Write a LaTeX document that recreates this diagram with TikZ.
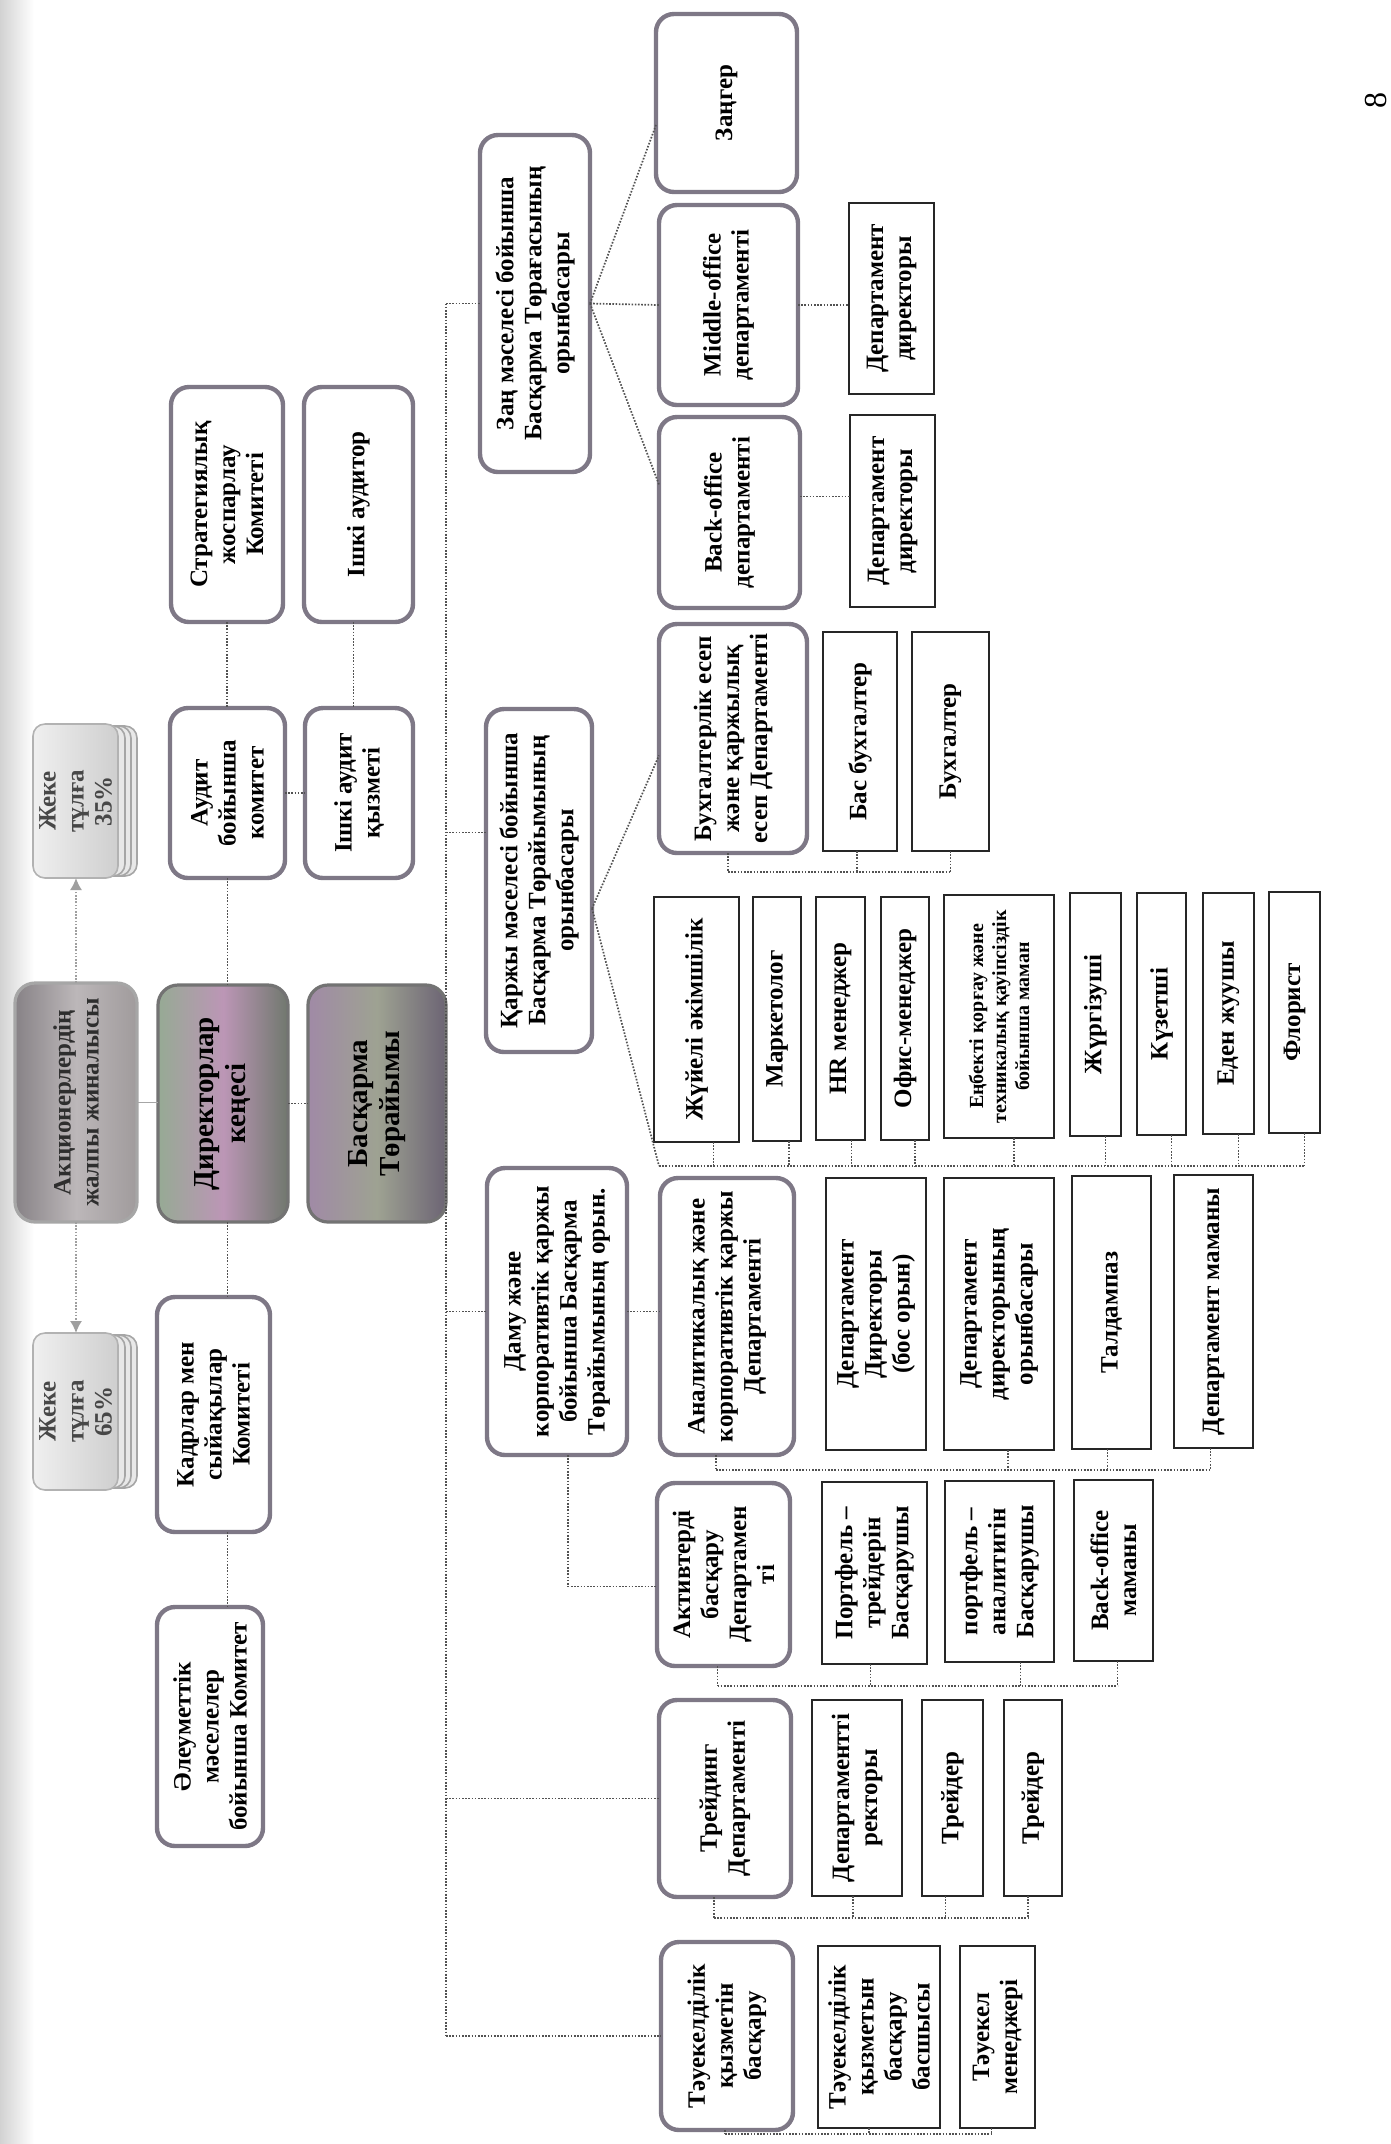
\documentclass[tikz,border=0pt]{standalone}
\usepackage{fontspec}
\setmainfont{Liberation Serif}
\usetikzlibrary{arrows.meta,calc}
\definecolor{rb}{RGB}{126,120,134}
\definecolor{dirA}{RGB}{150,170,148}
\definecolor{dirB}{RGB}{188,150,182}
\definecolor{dirC}{RGB}{112,120,110}
\definecolor{basA}{RGB}{160,138,166}
\definecolor{basB}{RGB}{158,162,146}
\definecolor{basC}{RGB}{108,100,116}
\definecolor{akA}{RGB}{135,130,134}
\definecolor{akB}{RGB}{188,183,185}
\definecolor{akC}{RGB}{160,155,156}
\tikzset{
  rbox/.style={draw=rb, line width=2.2pt, rounded corners=9pt, fill=white, inner sep=0pt, outer sep=0pt},
  sbox/.style={draw=black!85, line width=1.2pt, fill=white, inner sep=0pt, outer sep=0pt},
  fbox/.style={draw=black!55, line width=1.6pt, rounded corners=10pt, inner sep=0pt, outer sep=0pt},
  jbox/.style={draw=gray!60, line width=0.8pt, rounded corners=6pt, left color=gray!12, right color=gray!38, inner sep=0pt, outer sep=0pt},
  stk/.style={draw=gray!70, line width=0.8pt, rounded corners=6pt, fill=gray!18},
  txt/.style={rotate=90, align=center, font=\bfseries\fontsize{12.5}{14}\selectfont, inner sep=0pt, text=black},
  bigtxt/.style={font=\bfseries\fontsize{14.5}{16}\selectfont},
  dot/.style={draw=black!68, line width=0.85pt, dash pattern=on 0.8pt off 0.8pt},
  arr/.style={draw=gray!75, line width=0.8pt, dash pattern=on 0.8pt off 0.8pt, -{Latex[length=6pt,width=6pt]}},
}
\newcommand\orgbox[8][]{%
  \node[#3, minimum width={(#6-#4)*0.5pt}, minimum height={(#7-#5)*0.5pt}] (#2) at ({(#4+#6)/2},{(#5+#7)/2}) {};
  \node[txt,#1] (#2t) at (#2.center) {#8};}
\newcommand\stub[3]{\draw[dot] ($(#1.south)+(#2,0)$) -- ($(#1.south |- #3)+(#2,0)$);}
\begin{document}
\begin{tikzpicture}[x=0.5pt,y=-0.5pt]
\useasboundingbox (0,0) rectangle (1391,2144);
\fill[white] (0,0) rectangle (1391,2144);
\shade[left color=gray!35, right color=white] (0,0) rectangle (34,2144);

% page number
\node[rotate=90, font=\fontsize{16}{18}\selectfont, inner sep=0pt] (pg) at (1376,100) {8};

% stacked shareholder boxes
\foreach \o in {19,13,7}{
  \draw[stk] (33+\o,726) rectangle (118+\o,876);
  \draw[stk] (33+\o,1335) rectangle (118+\o,1488);
}
\orgbox[text=black!72]{j35}{jbox}{33}{724}{118}{878}{Жеке\\тұлға\\35\%}
\orgbox[text=black!72]{j65}{jbox}{33}{1333}{118}{1490}{Жеке\\тұлға\\65\%}
\orgbox[text=black!82]{akc}{fbox, draw=gray!70, left color=akA, right color=akC, middle color=akB}{15}{983}{137}{1222}{Акционерлердің\\жалпы жиналысы}

% board column
\orgbox{strat}{rbox}{171}{387}{283}{622}{Стратегиялық\\жоспарлау\\Комитеті}
\orgbox{aud}{rbox}{170}{708}{285}{878}{Аудит\\бойынша\\комитет}
\orgbox[bigtxt]{dir}{fbox, left color=dirA, right color=dirC, middle color=dirB}{158}{985}{288}{1222}{Директорлар\\кеңесі}
\orgbox{kad}{rbox}{157}{1297}{270}{1532}{Кадрлар мен\\сыйақылар\\Комитеті}
\orgbox{ale}{rbox}{157}{1607}{263}{1846}{Әлеуметтік\\мәселелер\\бойынша Комитет}
\orgbox{ia}{rbox}{304}{387}{413}{622}{Ішкі аудитор}
\orgbox{iaq}{rbox}{305}{708}{413}{878}{Ішкі аудит\\қызметі}
\orgbox[bigtxt]{bas}{fbox, left color=basA, right color=basC, middle color=basB}{308}{985}{446}{1222}{Басқарма\\Төрайымы}

% deputies
\orgbox{zan}{rbox}{480}{135}{590}{472}{Заң мәселесі бойынша\\Басқарма Төрағасының\\орынбасары}
\orgbox{qz}{rbox}{486}{709}{592}{1052}{Қаржы мәселесі бойынша\\Басқарма Төрайымының\\орынбасары}
\orgbox{damu}{rbox}{487}{1168}{627}{1455}{Даму және\\корпоративтік қаржы\\бойынша Басқарма\\Төрайымының орын.}

% legal branch
\orgbox{zg}{rbox}{656}{14}{797}{192}{Заңгер}
\orgbox{mo}{rbox}{659}{205}{798}{405}{Middle-office\\департаменті}
\orgbox{bo}{rbox}{659}{417}{800}{608}{Back-office\\департаменті}
\orgbox{mdir}{sbox}{849}{203}{934}{394}{Департамент\\директоры}
\orgbox{bdir}{sbox}{850}{415}{935}{607}{Департамент\\директоры}

% finance branch
\orgbox{buh}{rbox}{659}{624}{807}{853}{Бухгалтерлік есеп\\және қаржылық\\есеп Департаменті}
\orgbox{bb}{sbox}{823}{632}{897}{851}{Бас бухгалтер}
\orgbox{bh}{sbox}{912}{632}{989}{851}{Бухгалтер}
\orgbox{s1}{sbox}{654}{897}{739}{1142}{Жүйелі әкімшілік}
\orgbox{s2}{sbox}{753}{897}{801}{1141}{Маркетолог}
\orgbox{s3}{sbox}{816}{897}{865}{1140}{HR менеджер}
\orgbox{s4}{sbox}{881}{897}{929}{1140}{Офис-менеджер}
\orgbox[font=\bfseries\fontsize{10}{11.5}\selectfont]{s5}{sbox}{944}{895}{1054}{1138}{Еңбекті қорғау және\\техникалық қауіпсіздік\\бойынша маман}
\orgbox{s6}{sbox}{1070}{893}{1121}{1136}{Жүргізуші}
\orgbox{s7}{sbox}{1137}{893}{1186}{1135}{Күзетші}
\orgbox{s8}{sbox}{1203}{893}{1254}{1134}{Еден жуушы}
\orgbox{s9}{sbox}{1269}{892}{1320}{1133}{Флорист}

% development branch
\orgbox{an}{rbox}{660}{1178}{794}{1455}{Аналитикалық және\\корпоративтік қаржы\\Департаменті}
\orgbox{a1}{sbox}{826}{1178}{926}{1450}{Департамент\\Директоры\\(бос орын)}
\orgbox{a2}{sbox}{944}{1178}{1054}{1450}{Департамент\\директорының\\орынбасары}
\orgbox{a3}{sbox}{1072}{1176}{1151}{1449}{Талдампаз}
\orgbox{a4}{sbox}{1174}{1175}{1253}{1448}{Департамент маманы}
\orgbox{akt}{rbox}{657}{1483}{790}{1666}{Активтерді\\басқару\\Департамен\\ті}
\orgbox{p1}{sbox}{822}{1482}{927}{1664}{Портфель –\\трейдерін\\Басқарушы}
\orgbox{p2}{sbox}{945}{1481}{1054}{1662}{портфель –\\аналитигін\\Басқарушы}
\orgbox{p3}{sbox}{1074}{1480}{1153}{1661}{Back-office\\маманы}
\orgbox{tr}{rbox}{659}{1700}{791}{1897}{Трейдинг\\Департаменті}
\orgbox{t1}{sbox}{812}{1700}{902}{1896}{Департаменттi\\ректоры}
\orgbox{t2}{sbox}{922}{1700}{983}{1896}{Трейдер}
\orgbox{t3}{sbox}{1004}{1700}{1062}{1896}{Трейдер}
\orgbox{tk}{rbox}{661}{1942}{793}{2130}{Тәуекелділік\\қызметін\\басқару}
\orgbox{k1}{sbox}{818}{1946}{940}{2128}{Тәуекелділік\\қызметын\\басқару\\басшысы}
\orgbox{k2}{sbox}{960}{1946}{1035}{2128}{Тәуекел\\менеджері}

% ---- connectors, left part
\draw[arr] (akc.north) -- (akc.north |- j35.south);
\draw[arr] (akc.south) -- (akc.south |- j65.north);
\draw[draw=gray!70, line width=0.8pt] (akc.east) -- (akc.east -| dir.west);
\draw[dot] (dir.east) -- (dir.east -| bas.west);
\draw[dot] (strat.south) -- (strat.south |- aud.north);
\draw[dot] (aud.south) -- (aud.south |- dir.north);
\draw[dot] (aud.south |- dir.south) -- (aud.south |- kad.north);
\draw[dot] (aud.south |- kad.south) -- (aud.south |- ale.north);
\draw[dot] ($(ia.south)+(-5,0)$) -- ($(ia.south |- iaq.north)+(-5,0)$);
\draw[dot] (aud.east) -- (aud.east -| iaq.west);

% ---- spine
\coordinate (spT) at (bas.east |- zan.west);
\coordinate (spB) at (bas.east |- tk.west);
\coordinate (qk) at ($(qz.west)+(0,-48)$);
\draw[dot] (spT) -- (spB);
\draw[dot] (spT) -- (zan.west);
\draw[dot] (bas.east |- qk) -- (qk);
\draw[dot] (bas.east |- damu.west) -- (damu.west);
\draw[dot] (bas.east |- tr.west) -- (tr.west);
\draw[dot] (spB) -- (tk.west);

% ---- legal fan
\draw[dot] (zan.east) -- ($(zg.west)+(0,22)$);
\draw[dot] (zan.east) -- (mo.west);
\draw[dot] (zan.east) -- ($(bo.west)+(0,-28)$);
\draw[dot] (mo.east) -- (mo.east -| mdir.west);
\draw[dot] ($(bo.east)+(0,-16)$) -- ($(bo.east -| bdir.west)+(0,-16)$);

% ---- finance fan
\coordinate (qf) at ($(qz.east)+(0,28)$);
\coordinate (bkS) at (659,1166);
\draw[dot] (qf) -- ($(buh.west)+(0,17)$);
\draw[dot] (qf) -- (bkS);
\coordinate (bkB) at (0,872);
\stub{buh}{-5}{bkB}\stub{bb}{-3}{bkB}\stub{bh}{0}{bkB}
\draw[dot] ($(buh.south |- bkB)+(-5,0)$) -- (bh.south |- bkB);
\stub{s1}{17}{bkS}\stub{s2}{12}{bkS}\stub{s3}{11}{bkS}\stub{s4}{10}{bkS}\stub{s5}{15}{bkS}
\stub{s6}{10}{bkS}\stub{s7}{10}{bkS}\stub{s8}{10}{bkS}\stub{s9}{10}{bkS}
\draw[dot] (bkS) -- ($(s9.south |- bkS)+(10,0)$);

% ---- development branch
\draw[dot] (damu.east) -- (damu.east -| an.west);
\draw[dot] ($(damu.south)+(11,0)$) |- ($(akt.west)+(0,12)$);
\coordinate (bkA) at (0,1470);
\stub{an}{-11}{bkA}\stub{a2}{9}{bkA}\stub{a3}{-4}{bkA}\stub{a4}{-3}{bkA}
\draw[dot] ($(an.south |- bkA)+(-11,0)$) -- ($(a4.south |- bkA)+(-3,0)$);
\coordinate (bkP) at (0,1686);
\stub{akt}{-6}{bkP}\stub{p1}{-4}{bkP}\stub{p2}{21}{bkP}\stub{p3}{4}{bkP}
\draw[dot] ($(akt.south |- bkP)+(-6,0)$) -- ($(p3.south |- bkP)+(4,0)$);
\coordinate (bkT) at (0,1918);
\stub{tr}{-11}{bkT}\stub{t1}{-4}{bkT}\stub{t2}{-7}{bkT}\stub{t3}{-5}{bkT}
\draw[dot] ($(tr.south |- bkT)+(-11,0)$) -- ($(t3.south |- bkT)+(-5,0)$);
\coordinate (bkK) at (0,2134);
\stub{tk}{-2}{bkK}\stub{k1}{-10}{bkK}\stub{k2}{-6}{bkK}
\draw[dot] ($(tk.south |- bkK)+(-2,0)$) -- ($(k2.south |- bkK)+(-6,0)$);
\end{tikzpicture}
\end{document}
